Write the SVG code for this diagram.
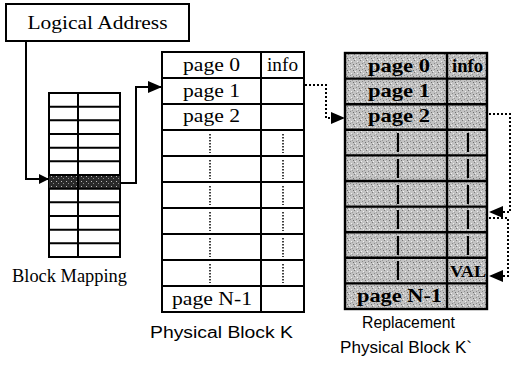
<svg xmlns="http://www.w3.org/2000/svg" width="511" height="370" viewBox="0 0 511 370">
<style>
.ln{fill:none;stroke:#000;stroke-width:2}
.cell{fill:#fff;stroke:#000;stroke-width:2}
.gcell{fill:url(#speck);stroke:#000;stroke-width:2.4}
.dot{fill:none;stroke:#000;stroke-width:2;stroke-dasharray:2 2}
.vd{fill:none;stroke:#000;stroke-width:1.5;stroke-dasharray:1.5 1.5}
.serif{font-family:"Liberation Serif","DejaVu Serif",serif;fill:#000}
.sans{font-family:"Liberation Sans","DejaVu Sans",sans-serif;fill:#000}
.bold{font-family:"Liberation Serif","DejaVu Serif",serif;font-weight:bold;fill:#000}
</style>
<defs>
<pattern id="speck" width="6" height="6" patternUnits="userSpaceOnUse">
<rect width="6" height="6" fill="#c2c2c2"/>
<rect x="0" y="0" width="1" height="1" fill="#7a7a7a"/>
<rect x="3" y="1" width="1" height="1" fill="#eeeeee"/>
<rect x="2" y="3" width="1" height="1" fill="#8a8a8a"/>
<rect x="5" y="4" width="1" height="1" fill="#6e6e6e"/>
<rect x="1" y="5" width="1" height="1" fill="#f2f2f2"/>
<rect x="4" y="2" width="1" height="1" fill="#9a9a9a"/>
</pattern>
<pattern id="dark" width="5" height="5" patternUnits="userSpaceOnUse">
<rect width="5" height="5" fill="#2a2a2a"/>
<rect x="1" y="1" width="1" height="1" fill="#bbbbbb"/>
<rect x="3" y="3" width="1" height="1" fill="#8a8a8a"/>
</pattern>
<marker id="arr" markerWidth="10" markerHeight="10" refX="10" refY="5" orient="auto" markerUnits="userSpaceOnUse" viewBox="0 0 10 10">
<path d="M0,0 L10,5 L0,10 z" fill="#000"/>
</marker>
<marker id="arrL" markerWidth="14" markerHeight="12" refX="14" refY="6" orient="auto" markerUnits="userSpaceOnUse" viewBox="0 0 14 12">
<path d="M0,0 L14,6 L0,12 z" fill="#000"/>
</marker>
</defs>

<g id="logical-address">
<rect x="6" y="4" width="183" height="37" class="cell"/>
<text x="97.5" y="29" class="serif" font-size="18" text-anchor="middle" textLength="140" lengthAdjust="spacingAndGlyphs">Logical Address</text>
</g>

<g id="block-mapping">
<rect x="49" y="93" width="71" height="164" class="cell"/>
<rect x="49" y="175" width="71" height="13.7" fill="url(#dark)"/>
<path class="ln" d="M49,106.7H120M49,120.3H120M49,134H120M49,147.7H120M49,161.3H120M49,175H120M49,188.7H120M49,202.3H120M49,216H120M49,229.7H120M49,243.3H120M78,93V257"/>
<text x="69.5" y="282" class="serif" font-size="18.5" text-anchor="middle" textLength="115" lengthAdjust="spacingAndGlyphs">Block Mapping</text>
</g>

<g id="physical-block-k">
<rect x="162" y="52" width="142" height="260" class="cell"/>
<path class="ln" d="M162,78H304M162,104H304M162,130H304M162,156H304M162,182H304M162,208H304M162,234H304M162,260H304M162,286H304M261,52V312"/>
<path class="vd" d="M210,134V153M210,160V179M210,186V205M210,212V231M210,238V257M210,264V283M283,134V153M283,160V179M283,186V205M283,212V231M283,238V257M283,264V283"/>
<text x="211.5" y="71" class="serif" font-size="19" text-anchor="middle" textLength="57" lengthAdjust="spacingAndGlyphs">page 0</text>
<text x="282.5" y="71" class="serif" font-size="19" text-anchor="middle" textLength="31" lengthAdjust="spacingAndGlyphs">info</text>
<text x="211.5" y="97" class="serif" font-size="19" text-anchor="middle" textLength="57" lengthAdjust="spacingAndGlyphs">page 1</text>
<text x="211.5" y="122" class="serif" font-size="19" text-anchor="middle" textLength="57" lengthAdjust="spacingAndGlyphs">page 2</text>
<text x="212" y="305" class="serif" font-size="19" text-anchor="middle" textLength="80" lengthAdjust="spacingAndGlyphs">page N-1</text>
<text x="221.5" y="338" class="sans" font-size="16" text-anchor="middle" textLength="143" lengthAdjust="spacingAndGlyphs">Physical Block K</text>
</g>

<g id="replacement-block">
<rect x="345" y="53" width="142" height="256" class="gcell"/>
<path d="M345,78.6H487M345,104.2H487M345,129.8H487M345,155.4H487M345,181H487M345,206.6H487M345,232.2H487M345,257.8H487M345,283.4H487M447,53V309" fill="none" stroke="#000" stroke-width="2.4"/>
<path d="M398,133V152M398,159V178M398,185V204M398,210V229M398,236V255M398,261V280M468,133V152M468,159V178M468,185V204M468,210V229M468,236V255" fill="none" stroke="#000" stroke-width="2.2"/>
<text x="399" y="72" class="bold" font-size="19" text-anchor="middle" textLength="62" lengthAdjust="spacingAndGlyphs">page 0</text>
<text x="467.5" y="72" class="bold" font-size="19" text-anchor="middle" textLength="31" lengthAdjust="spacingAndGlyphs">info</text>
<text x="399" y="97" class="bold" font-size="19" text-anchor="middle" textLength="62" lengthAdjust="spacingAndGlyphs">page 1</text>
<text x="399" y="122" class="bold" font-size="19" text-anchor="middle" textLength="62" lengthAdjust="spacingAndGlyphs">page 2</text>
<text x="468" y="277" class="bold" font-size="17" text-anchor="middle" textLength="36" lengthAdjust="spacingAndGlyphs">VAL</text>
<text x="399.5" y="302" class="bold" font-size="19" text-anchor="middle" textLength="85" lengthAdjust="spacingAndGlyphs">page N-1</text>
<text x="408.5" y="328" class="sans" font-size="16.5" text-anchor="middle" textLength="93" lengthAdjust="spacingAndGlyphs">Replacement</text>
<text x="406" y="353" class="sans" font-size="16.5" text-anchor="middle" textLength="132" lengthAdjust="spacingAndGlyphs">Physical Block K`</text>
</g>

<g id="connectors">
<path class="ln" d="M26,41V179H49" marker-end="url(#arr)"/>
<path class="ln" d="M120,183H136V87H162" marker-end="url(#arrL)"/>
<path class="dot" d="M305,85H326V118H345" marker-end="url(#arrL)"/>
<path class="dot" d="M489,114H510V212H489" marker-end="url(#arrL)"/>
<path class="dot" d="M489,218H508V276H489" marker-end="url(#arrL)"/>
</g>
</svg>
